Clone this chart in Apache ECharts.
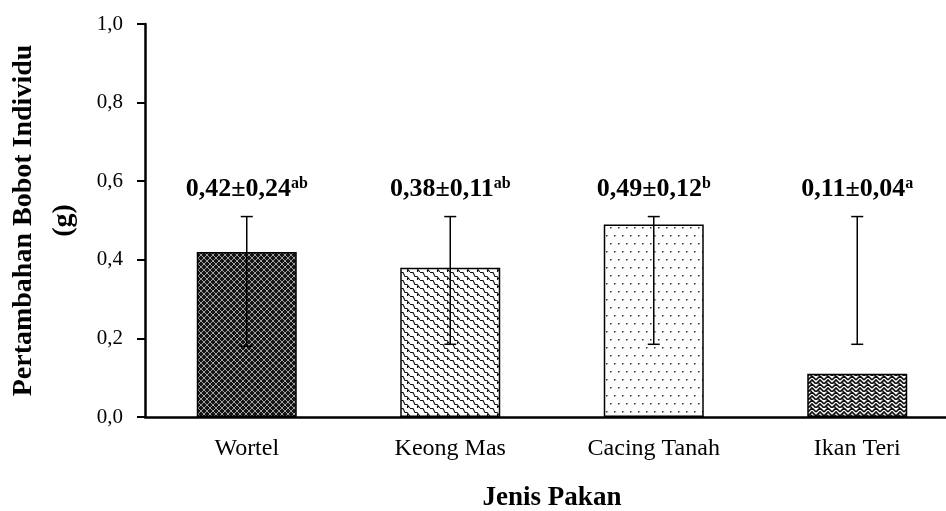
<!DOCTYPE html>
<html>
<head>
<meta charset="utf-8">
<script src="https://cdn.jsdelivr.net/npm/echarts@6/dist/echarts.min.js"></script>
<style>
  html, body { margin: 0; padding: 0; background: #fff; }
  #chart { width: 946px; height: 511px; }
</style>
</head>
<body>
<div id="chart"></div>
<script>
// data
var categories = ["Wortel", "Keong Mas", "Cacing Tanah", "Ikan Teri"];
var means = [0.42, 0.38, 0.49, 0.11];
var errLow = [0.18, 0.185, 0.185, 0.185];
var errHigh = [0.51, 0.51, 0.51, 0.51];
var meanText = ["0,42±0,24", "0,38±0,11", "0,49±0,12", "0,11±0,04"];
var letters = ["ab", "ab", "b", "a"];

var serif = "'Liberation Serif', 'Times New Roman', serif";

// fill patterns for the bars
function tile(w, h, draw) {
  var c = document.createElement("canvas");
  c.width = w;
  c.height = h;
  var ctx = c.getContext("2d");
  ctx.fillStyle = "#fff";
  ctx.fillRect(0, 0, w, h);
  draw(ctx);
  return { image: c, repeat: "repeat" };
}

var patWortel = tile(6, 6, function (ctx) {
  ctx.fillStyle = "#151515";
  ctx.fillRect(0, 0, 6, 6);
  ctx.fillStyle = "#a0a0a0";
  for (var i = 0; i < 6; i++) {
    ctx.fillRect(i, i, 1, 1);
    ctx.fillRect(5 - i, i, 1, 1);
  }
});

var patKeong = tile(10, 8, function (ctx) {
  ctx.strokeStyle = "#111";
  ctx.lineWidth = 1.1;
  ctx.beginPath();
  ctx.moveTo(0, 0.5);
  ctx.lineTo(3, 0.5);
  ctx.lineTo(5, 4.5);
  ctx.lineTo(7, 4.5);
  ctx.lineTo(10, 8);
  ctx.moveTo(7.5, 4.5);
  ctx.lineTo(7.5, 8);
  ctx.stroke();
});

var patCacing = tile(8, 16, function (ctx) {
  ctx.fillStyle = "#333";
  ctx.fillRect(2, 3, 1.5, 1.5);
  ctx.fillRect(6, 11, 1.5, 1.5);
});

var patIkan = tile(8, 8, function (ctx) {
  ctx.strokeStyle = "#111";
  ctx.lineWidth = 1.6;
  ctx.beginPath();
  ctx.moveTo(0, 4);
  ctx.lineTo(4, 0);
  ctx.lineTo(8, 4);
  ctx.moveTo(0, 8);
  ctx.lineTo(4, 4);
  ctx.lineTo(8, 8);
  ctx.moveTo(2, 6);
  ctx.lineTo(4, 8);
  ctx.stroke();
});

var patterns = [patWortel, patKeong, patCacing, patIkan];

var chart = echarts.init(document.getElementById("chart"));

var option = {
  backgroundColor: "#fff",
  animation: false,
  grid: { left: 145, right: -13, top: 24, bottom: 94, outerBoundsMode: "none", containLabel: false },
  xAxis: {
    type: "category",
    data: categories,
    name: "Jenis Pakan",
    nameLocation: "middle",
    nameGap: 68,
    nameTextStyle: { color: "#000", fontFamily: serif, fontWeight: "bold", fontSize: 27 },
    axisLine: { lineStyle: { color: "#000", width: 2.5 } },
    axisTick: { alignWithLabel: true, length: 7, lineStyle: { color: "#000", width: 2 } },
    axisLabel: { color: "#000", fontFamily: serif, fontSize: 24, margin: 20 },
    splitLine: { show: false }
  },
  yAxis: {
    type: "value",
    min: 0,
    max: 1,
    interval: 0.2,
    name: "Pertambahan Bobot Individu\n(g)",
    nameLocation: "middle",
    nameRotate: 90,
    nameGap: 61,
    nameTextStyle: { color: "#000", fontFamily: serif, fontWeight: "bold", fontSize: 28, lineHeight: 40 },
    axisLine: { show: true, lineStyle: { color: "#000", width: 2.5 } },
    axisTick: { show: true, length: 8, lineStyle: { color: "#000", width: 2 } },
    axisLabel: {
      color: "#000",
      fontFamily: serif,
      fontSize: 21,
      margin: 22,
      formatter: function (v) { return v.toFixed(1).replace(".", ","); }
    },
    splitLine: { show: false }
  },
  series: [
    {
      type: "bar",
      barWidth: 100,
      data: means.map(function (v, i) {
        return {
          value: v,
          itemStyle: { color: patterns[i], borderColor: "#000", borderWidth: 1.5 }
        };
      })
    },
    {
      type: "custom",
      data: categories.map(function (c, i) { return [i, errLow[i], errHigh[i]]; }),
      renderItem: function (params, api) {
        var i = params.dataIndex;
        var top = api.coord([api.value(0), api.value(2)]);
        var low = api.coord([api.value(0), api.value(1)]);
        var cap = 6;
        var ls = { stroke: "#000", lineWidth: 1.5 };
        return {
          type: "group",
          children: [
            { type: "line", shape: { x1: top[0], y1: top[1], x2: low[0], y2: low[1] }, style: ls },
            { type: "line", shape: { x1: top[0] - cap, y1: top[1], x2: top[0] + cap, y2: top[1] }, style: ls },
            { type: "line", shape: { x1: low[0] - cap, y1: low[1], x2: low[0] + cap, y2: low[1] }, style: ls },
            {
              type: "text",
              x: top[0],
              y: top[1] - 27,
              style: {
                text: "{m|" + meanText[i] + "}{s|" + letters[i] + "}",
                align: "center",
                verticalAlign: "middle",
                rich: {
                  m: { fontFamily: serif, fontWeight: "bold", fontSize: 26, fill: "#000", lineHeight: 28 },
                  s: { fontFamily: serif, fontWeight: "bold", fontSize: 16, fill: "#000", verticalAlign: "top", lineHeight: 16 }
                }
              }
            }
          ]
        };
      },
      z: 5
    }
  ]
};

chart.setOption(option);
</script>
</body>
</html>
